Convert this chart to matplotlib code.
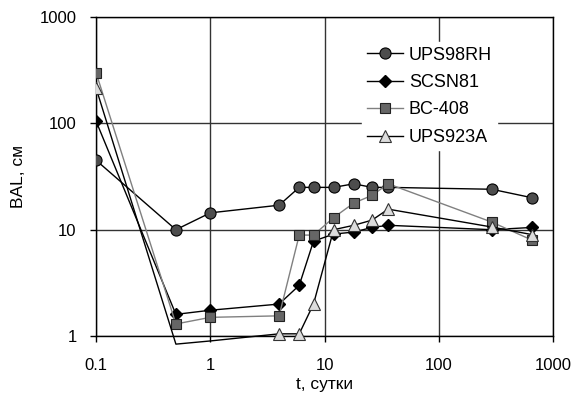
import numpy as np
import matplotlib.pyplot as plt
from matplotlib.transforms import Bbox, TransformedBbox

plt.rcParams['font.family'] = ['Liberation Sans', 'DejaVu Sans']

# time points, days
t = [0.1, 0.5, 1, 4, 6, 8, 12, 18, 26, 36, 290, 650]

# BAL values, cm
ups98rh = [45, 10, 14.4, 17, 25, 25, 25, 27, 25, 25, 24, 20]
scsn81 = [105, 1.6, 1.75, 2.0, 3.0, 7.8, 9.1, 9.5, 10.5, 11, 10, 10.5]
bc408 = [300, 1.3, 1.5, 1.55, 8.9, 8.9, 13, 17.8, 21, 27, 11.8, 8]
ups923a = [215, 0.84, 0.9, 1.05, 1.05, 2.0, 10, 11, 12.3, 15.6, 10.6, 9]

labels = ['UPS98RH', 'SCSN81', 'BC-408', 'UPS923A']

fig = plt.figure(figsize=(5.75, 3.94), dpi=100)
ax = fig.add_axes([0.167, 0.147, 0.795, 0.81])

# markers below the plot area are not shown in the original
visible = [i for i, v in enumerate(ups923a) if v >= 1]

lines = []
lines += ax.plot(t, ups98rh, color='black', lw=1, marker='o', ms=8,
                 mfc='#4d4d4d', mec='black', mew=0.8, label=labels[0], zorder=5)
lines += ax.plot(t, scsn81, color='black', lw=1, marker='D', ms=6,
                 mfc='black', mec='black', label=labels[1], zorder=4)
lines += ax.plot(t, bc408, color='#808080', lw=1, marker='s', ms=7.5,
                 mfc='#666666', mec='#222222', mew=0.8, label=labels[2], zorder=6)
lines += ax.plot(t, ups923a, color='black', lw=1, marker='^', ms=8.5,
                 mfc='#dcdcdc', mec='#333333', mew=0.8, markevery=visible,
                 label=labels[3], zorder=7)

# lines in the original run a little below the bottom axis
clip = TransformedBbox(Bbox([[0, -0.03], [1, 1]]), ax.transAxes)
for ln in lines:
    ln.set_clip_box(clip)

ax.set_xscale('log')
ax.set_yscale('log')
ax.set_xlim(0.1, 1000)
ax.set_ylim(1, 1000)

ax.set_xticks([0.1, 1, 10, 100, 1000])
ax.set_xticklabels(['0.1', '1', '10', '100', '1000'])
ax.set_yticks([1, 10, 100, 1000])
ax.set_yticklabels(['1', '10', '100', '1000'])
ax.minorticks_off()
ax.tick_params(axis='both', which='major', labelsize=12, direction='out',
               length=4, width=1, color='black')
ax.tick_params(axis='x', pad=12)
ax.tick_params(axis='y', pad=10)

ax.grid(True, which='major', color='#333333', lw=1)
ax.set_axisbelow(True)
for s in ax.spines.values():
    s.set_color('black')
    s.set_linewidth(1)

ax.set_xlabel('t, сутки', fontsize=12.5, labelpad=3)
ax.set_ylabel('BAL, см', fontsize=12.5, labelpad=10)

leg = ax.legend(loc='upper left', bbox_to_anchor=(353 / 575, 1 - 33 / 394),
                bbox_transform=fig.transFigure, frameon=True, fancybox=False,
                edgecolor='white', framealpha=1, fontsize=13,
                handlelength=2.0, handletextpad=0.35, labelspacing=0.58,
                borderpad=0.25)
leg.set_zorder(10)

fig.savefig('out.png', dpi=100)
